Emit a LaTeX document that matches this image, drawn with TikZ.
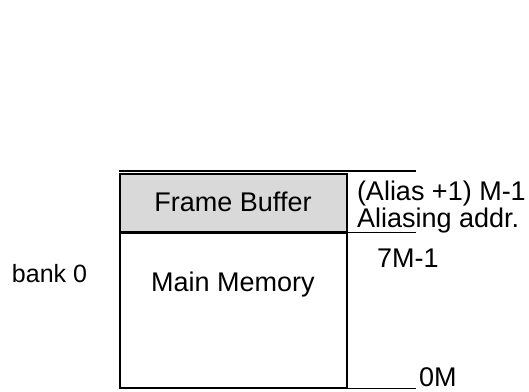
\documentclass[tikz,border=0pt]{standalone}
\usepackage{fontspec}
\setmainfont{Liberation Sans}
\begin{document}
\begin{tikzpicture}[x=1pt,y=-1pt,
  fbbox/.style={draw=black, line width=1.2pt, fill=black!15, minimum width=227pt, minimum height=58pt, inner sep=0pt, outer sep=0pt},
  mmbox/.style={draw=black, line width=1.2pt, minimum width=227pt, minimum height=156pt, inner sep=0pt, outer sep=0pt},
  lbl/.style={font=\fontsize{27}{32}\selectfont, inner sep=0pt, outer sep=0pt},
  lblw/.style={lbl, anchor=base west},
  lblc/.style={lbl, anchor=base},
  thickrule/.style={line width=2pt},
  thinrule/.style={line width=1pt}]
\useasboundingbox (0,0) rectangle (529,391);
% boxes
\node[fbbox] (fb) at (233.5,203) {};
\node[mmbox] (mm) at (233.5,310) {};
% rules
\coordinate (tl) at (119,171);
\coordinate (tr) at (416,171);
\coordinate (sepL) at (119,232);
\coordinate (sepR) at (416,232);
\coordinate (botL) at (119,388);
\coordinate (botR) at (416,388);
\draw[thickrule] (tl) -- (tr);
\draw[line width=3pt] (sepL) -- (fb.south east);
\draw[thinrule] (fb.south east) -- (sepR);
\draw[line width=2.5pt] (botL) -- (mm.south east);
\draw[thinrule] (mm.south east) -- (botR);
% texts
\node[lblc] (fbt) at (233,211) {Frame Buffer};
\node[lblc] (mmt) at (233,291) {Main Memory};
\node[lblw] (alias) at (357,200) {(Alias +1) M-1};
\node[lblw] (aliasing) at (357,227) {Aliasing addr.};
\node[lblw] (sevenm) at (377,267) {7M-1};
\node[lblw] (zerom) at (419,386) {0M};
\node[lblw, font=\fontsize{25}{30}\selectfont] (bank) at (12,282) {bank 0};
\end{tikzpicture}
\end{document}
